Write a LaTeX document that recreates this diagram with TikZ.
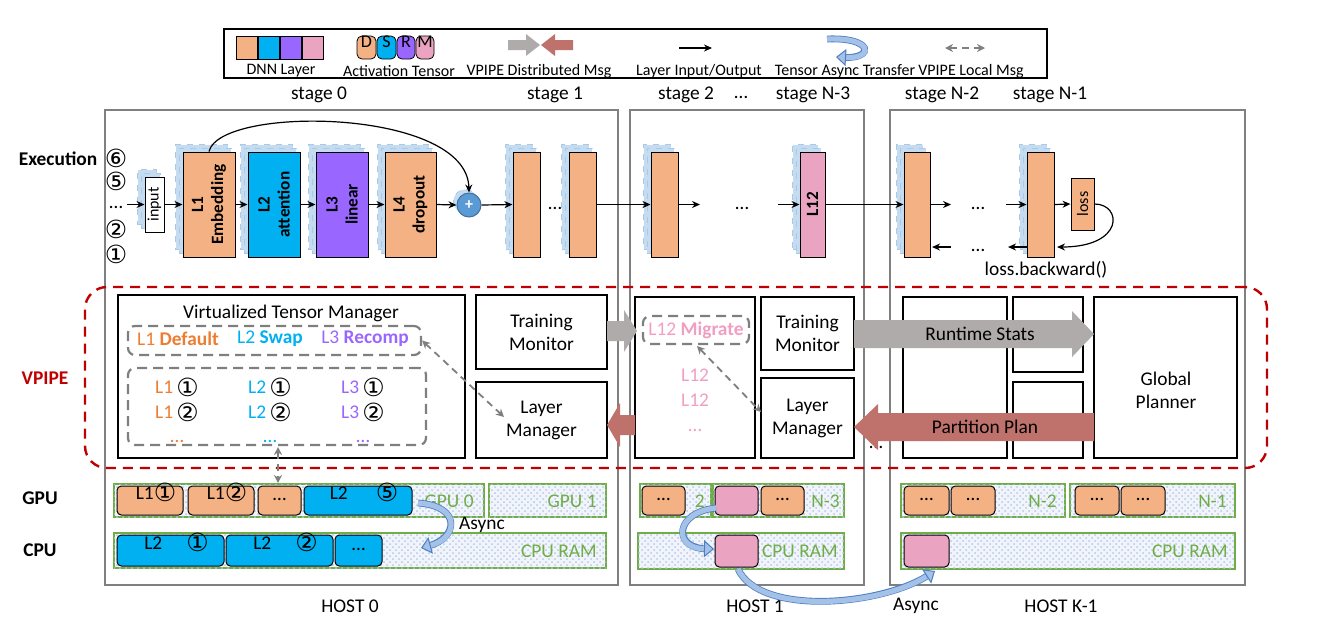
\documentclass[tikz,border=0pt]{standalone}
\usepackage{fontspec}
\setmainfont{Carlito}
\newfontfamily\symf{DejaVu Sans}
\usetikzlibrary{arrows.meta,fit,shadows,patterns,calc}
\definecolor{lorange}{HTML}{F4B183}
\definecolor{lblue}{HTML}{00B0F0}
\definecolor{lpurple}{HTML}{9966FF}
\definecolor{lpink}{HTML}{EAA3C1}
\definecolor{tpink}{HTML}{F19EC2}
\definecolor{torange}{HTML}{ED7D31}
\definecolor{gborder}{HTML}{70AD47}
\definecolor{vred}{HTML}{C00000}
\definecolor{agray}{HTML}{AFABAB}
\definecolor{ared}{HTML}{BF716C}
\definecolor{shblue}{HTML}{C5DBF0}
\definecolor{shedge}{HTML}{A9C9E8}
\definecolor{plusblue}{HTML}{5B9BD5}
\definecolor{plusedge}{HTML}{41719C}
\definecolor{asyncfill}{HTML}{A4C2E8}
\definecolor{asyncedge}{HTML}{4F7EC2}
\definecolor{dgray}{HTML}{7F7F7F}
\definecolor{hostgray}{HTML}{808080}
\definecolor{barfill}{HTML}{F1F5FB}
\definecolor{dotblue}{HTML}{B4C8E6}
\newcommand{\circd}[1]{\raisebox{-1.1pt}{\symf\fontsize{12.5}{13}\selectfont\char#1}}
\newcommand{\cone}{\circd{"2460}}
\newcommand{\ctwo}{\circd{"2461}}
\newcommand{\cfive}{\circd{"2464}}
\newcommand{\csix}{\circd{"2465}}
\begin{document}
\begin{tikzpicture}[x=0.5pt,y=-0.5pt,font=\fontsize{9.7}{11.5}\selectfont]
\tikzset{
  host/.style={draw=hostgray, line width=0.6pt, inner sep=0pt},
  fbox/.style={draw=black, line width=1.3pt, inner sep=0pt, align=center},
  dbox/.style={draw=dgray, line width=1.1pt, dash pattern=on 5pt off 3pt, rounded corners=3.5pt, inner sep=0pt},
  layer/.style={draw=black, line width=0.5pt, inner sep=0pt,
     double copy shadow={shadow xshift=-1.8pt, shadow yshift=1.8pt, fill=shblue, draw=shedge, dashed, line width=0.4pt}},
  io/.style={-{Stealth[length=4pt,width=3.5pt]}, line width=0.6pt},
  loc/.style={{Stealth[length=4pt,width=4pt]}-{Stealth[length=4pt,width=4pt]}, draw=dgray, line width=0.9pt, dash pattern=on 3.5pt off 2.5pt},
  bar/.style={draw=gborder, line width=1.1pt, inner sep=0pt, fill=barfill, postaction={pattern=crosshatch dots, pattern color=dotblue}},
  blk/.style={draw=black, line width=0.5pt, inner sep=0pt, rounded corners=2.2pt},
  bartext/.style={text=gborder, anchor=east, inner sep=0pt},
  lbl/.style={inner sep=0pt},
  dotl/.style={inner sep=0pt, text height=2pt, text depth=0pt},
  legt/.style={inner sep=0pt, font=\fontsize{8}{9.5}\selectfont},
  sq/.style={draw=black, line width=0.4pt, inner sep=0pt},
  tens/.style={draw=black, line width=0.4pt, inner sep=0pt, rounded corners=2.5pt, font=\fontsize{9}{10}\selectfont},
  rlabel/.style={rotate=90, inner sep=0pt, align=center, font=\bfseries\fontsize{8.6}{10}\selectfont},
  asy/.style={draw=asyncfill, line width=2.6pt, -{Triangle[length=5pt,width=8.5pt,fill=asyncfill,color=asyncedge,line width=0.5pt]},
     preaction={draw=asyncedge, line width=3.4pt, shorten >=4pt, -}},
}
\useasboundingbox (0,0) rectangle (1320,634);

% ---------------- legend ----------------
\node[draw=black, line width=0.9pt, inner sep=0pt, fit={(224,29) (1047,78)}] (legend) {};
\node[sq, fill=lorange, fit={(236,36) (257,59)}] (lg1) {};
\node[sq, fill=lblue,   fit={(258,36) (279,59)}] (lg2) {};
\node[sq, fill=lpurple, fit={(280,36) (301,59)}] (lg3) {};
\node[sq, fill=lpink,   fit={(302,36) (323,59)}] (lg4) {};
\node[legt] (lgt1) at (281,71) {DNN Layer};
\node[tens, fill=lorange, fit={(357,36) (376,59)}] (ta) {D};
\node[tens, fill=lblue,   fit={(377,36) (396,59)}] (tb) {S};
\node[tens, fill=lpurple, fit={(397,36) (415,59)}] (tc) {R};
\node[tens, fill=lpink,   fit={(416,36) (434,59)}] (td) {M};
\node[legt] (lgt2) at (399,71) {Activation Tensor};
\fill[agray] (508,40) -- (526,40) -- (526,34) -- (540,45) -- (526,56) -- (526,50) -- (508,50) -- cycle;
\fill[ared] (573,40) -- (555,40) -- (555,34) -- (541,45) -- (555,56) -- (555,50) -- (573,50) -- cycle;
\node[legt] (lgt3) at (539,71) {VPIPE Distributed Msg};
\coordinate (la1) at (679,48); \coordinate (la2) at (712,48);
\draw[io] (la1) -- (la2);
\node[legt] (lgt4) at (699,71) {Layer Input/Output};
\coordinate (lu1) at (827,39); \coordinate (lu2) at (836,57);
\draw[asy] (lu1) .. controls (874,37) and (874,59) .. (lu2);
\node[legt] (lgt5) at (845,71) {Tensor Async Transfer};
\coordinate (ld1) at (945,48); \coordinate (ld2) at (985,48);
\draw[loc] (ld1) -- (ld2);
\node[legt] (lgt6) at (971,71) {VPIPE Local Msg};

% ---------------- stage labels ----------------
\node[lbl] (st0) at (319,95) {stage 0};
\node[lbl] (st1) at (555,95) {stage 1};
\node[lbl] (st2) at (686,95) {stage 2};
\node[dotl] (std) at (741,96) {…};
\node[lbl] (st3) at (813,95) {stage N-3};
\node[lbl] (st4) at (942,95) {stage N-2};
\node[lbl] (st5) at (1050,95) {stage N-1};

% ---------------- hosts ----------------
\node[host, fit={(105,110) (618,585)}] (host0) {};
\node[host, fit={(630,110) (864,585)}] (host1) {};
\node[host, fit={(890,110) (1245,585)}] (hostk) {};
\node[lbl] (h0t) at (350,606) {HOST 0};
\node[lbl] (h1t) at (755,606) {HOST 1};
\node[lbl] (hkt) at (1061,606) {HOST K-1};

% ---------------- execution ----------------
\node[lbl, font=\bfseries\fontsize{9.7}{11.5}\selectfont] (exe) at (58,159) {Execution};
\node[lbl] (e6) at (116,158) {\csix};
\node[lbl] (e5) at (116,181) {\cfive};
\node[dotl] (ed) at (116,206) {…};
\node[lbl] (e2) at (116,229) {\ctwo};
\node[lbl] (e1) at (116,254) {\cone};
\node[layer, fill=white, fit={(145,177) (164,232)}] (inp) {};
\node[rotate=90, inner sep=0pt, font=\fontsize{8}{9}\selectfont] (inpt) at (inp.center) {input};
\node[layer, fill=lorange, fit={(183,152) (235,257)}] (L1) {};
\node[layer, fill=lblue,   fit={(248,152) (300,257)}] (L2) {};
\node[layer, fill=lpurple, fit={(316,152) (368,257)}] (L3) {};
\node[layer, fill=lorange, fit={(385,152) (436,257)}] (L4) {};
\node[rlabel] (L1t) at (L1.center) {L1\\Embedding};
\node[rlabel] (L2t) at (L2.center) {L2\\attention};
\node[rlabel] (L3t) at (L3.center) {L3\\linear};
\node[rlabel] (L4t) at (L4.center) {L4\\dropout};
\node[circle, fill=plusblue, draw=plusedge, line width=0.5pt, minimum size=12pt, inner sep=0pt, text=white,
      copy shadow={shadow xshift=-1.8pt, shadow yshift=1.8pt, fill=shblue, draw=shedge, dashed, line width=0.4pt},
      font=\bfseries\fontsize{8}{9}\selectfont] (plus) at (469,205) {+};
\node[layer, fill=lorange, fit={(513,152) (540,257)}] (S1a) {};
\node[dotl] (s1d) at (555,207) {…};
\node[layer, fill=lorange, fit={(569,152) (596,257)}] (S1b) {};
\node[layer, fill=lorange, fit={(651,152) (678,257)}] (S2a) {};
\coordinate (s2e) at (700,204.5);
\node[dotl] (s2d) at (742,207) {…};
\coordinate (s3s) at (778,204.5);
\node[layer, fill=lpink, fit={(800,152) (825,257)}] (L12) {};
\node[rlabel] (L12t) at (L12.center) {L12};
\node[layer, fill=lorange, fit={(904,152) (930,257)}] (N2a) {};
\coordinate (n2e) at (951,204.5);
\node[dotl] (n2d) at (978,207) {…};
\coordinate (n1s) at (1006,204.5);
\node[layer, fill=lorange, fit={(1027,152) (1054,257)}] (N1a) {};
\node[draw=black, line width=0.5pt, fill=lorange, inner sep=0pt, fit={(1071,178) (1094,230)}] (loss) {};
\node[rotate=90, inner sep=0pt, font=\fontsize{8}{9}\selectfont] (losst) at (loss.center) {loss};
\coordinate (ex0) at (127,204.5);
\draw[io] (ex0) -- (inp.west);
\draw[io] (inp.east) -- (L1.west);
\draw[io] (L1.east) -- (L2.west);
\draw[io] (L2.east) -- (L3.west);
\draw[io] (L3.east) -- (L4.west);
\draw[io] (L4.east) -- (plus.west);
\draw[io] (plus.east) -- (S1a.west);
\draw[io] (S1b.east) -- (S2a.west);
\draw[io] (S2a.east) -- (s2e);
\draw[io] (s3s) -- (L12.west);
\draw[io] (L12.east) -- (N2a.west);
\draw[io] (N2a.east) -- (n2e);
\draw[io] (n1s) -- (N1a.west);
\draw[io] (N1a.east) -- (loss.west);
\draw[io] (L1.north) .. controls (220,105) and (467,108) .. (plus.north);
\coordinate (bk1) at (1057,247);
\draw[io] (loss.east) .. controls (1122,204) and (1125,247) .. (bk1);
\coordinate (bk2) at (1027,247); \coordinate (bk3) at (1008,247);
\coordinate (bk4) at (951,247); \coordinate (bk5) at (932,247);
\draw[io] (bk2) -- (bk3);
\node[dotl] (bkd) at (978,249) {…};
\draw[io] (bk4) -- (bk5);
\node[lbl] (lossb) at (1046,270) {loss.backward()};

% ---------------- VPIPE ----------------
\node[draw=vred, line width=1.2pt, dash pattern=on 5pt off 3.5pt, rounded corners=11pt, inner sep=0pt, fit={(85,287) (1267,468)}] (vpipe) {};
\node[lbl, text=vred, font=\bfseries\fontsize{9.7}{11.5}\selectfont] (vpt) at (45,378) {VPIPE};

\node[fbox, fit={(118,295) (465,458)}] (vtm) {};
\node[lbl] (vtmt) at (291,313) {Virtualized Tensor Manager};
\node[dbox, fit={(128,326) (421,355)}] (pol) {};
\node[lbl, text=torange] (p1) at (178,339) {L1 \textbf{Default}};
\node[lbl, text=lblue]   (p2) at (270,339) {L2 \textbf{Swap}};
\node[lbl, text=lpurple] (p3) at (365,339) {L3 \textbf{Recomp}};
\node[dbox, fit={(128,368) (426,445)}] (acts) {};
\node[lbl] (a11) at (177,387) {\textcolor{torange}{L1}\,\cone};
\node[lbl] (a12) at (177,412) {\textcolor{torange}{L1}\,\ctwo};
\node[dotl, text=torange] (a13) at (177,440) {…};
\node[lbl] (a21) at (270,387) {\textcolor{lblue}{L2}\,\cone};
\node[lbl] (a22) at (270,412) {\textcolor{lblue}{L2}\,\ctwo};
\node[dotl, text=lblue] (a23) at (270,440) {…};
\node[lbl] (a31) at (363,387) {\textcolor{lpurple}{L3}\,\cone};
\node[lbl] (a32) at (363,412) {\textcolor{lpurple}{L3}\,\ctwo};
\node[dotl, text=lpurple] (a33) at (363,440) {…};
\node[fbox, fit={(476,295) (607,369)}] (tm0) {};
\node[lbl, align=center] (tm0t) at (tm0.center) {Training\\Monitor};
\node[fbox, fit={(476,382) (607,458)}] (lm0) {};
\node[lbl, align=center] (lm0t) at (lm0.center) {Layer\\Manager};
\coordinate (lm0p) at (504,417);
\draw[loc] (pol.east) -- (lm0p);

\node[fbox, fit={(635,297) (755,458)}] (h1b) {};
\node[dbox, fit={(643,316) (749,344)}] (mig) {};
\node[lbl, text=tpink] (migt) at (696,330) {L12 \textbf{Migrate}};
\node[lbl, text=tpink] (m1) at (695,375) {L12};
\node[lbl, text=tpink] (m2) at (695,400) {L12};
\node[dotl, text=tpink] (m3) at (695,429) {…};
\node[fbox, fit={(761,297) (854,370)}] (tm1) {};
\node[lbl, align=center] (tm1t) at (tm1.center) {Training\\Monitor};
\node[fbox, fit={(761,378) (854,458)}] (lm1) {};
\node[lbl, align=center] (lm1t) at (lm1.center) {Layer\\Manager};
\coordinate (migp) at (697,346);
\coordinate (lm1p) at (761,412);
\draw[loc] (migp) -- (lm1p);
\node[dotl] (hd) at (876,446) {…};

\node[fbox, fit={(903,297) (1007,458)}] (ka) {};
\node[fbox, fit={(1013,297) (1083,372)}] (kb) {};
\node[fbox, fit={(1013,382) (1083,458)}] (kc) {};
\node[fbox, fit={(1094,297) (1237,458)}] (gp) {};
\node[lbl, align=center] (gpt) at (1166,390) {Global\\Planner};

% block arrows
\fill[agray] (607,321) -- (624,321) -- (624,310) -- (637,331) -- (624,352) -- (624,341) -- (607,341) -- cycle;
\fill[ared] (635,415) -- (620,415) -- (620,403) -- (607,425) -- (620,447) -- (620,435) -- (635,435) -- cycle;
\fill[agray] (854,320) -- (1072,320) -- (1072,311) -- (1094,334) -- (1072,357) -- (1072,348) -- (854,348) -- cycle;
\node[lbl] (rst) at (980,334) {Runtime Stats};
\fill[ared] (1094,413) -- (878,413) -- (878,404) -- (854,427) -- (878,450) -- (878,441) -- (1094,441) -- cycle;
\node[lbl] (ppt) at (985,427) {Partition Plan};

% ---------------- GPU / CPU ----------------
\node[lbl, font=\bfseries\fontsize{9.7}{11.5}\selectfont] (gput) at (40,498) {GPU};
\node[lbl, font=\bfseries\fontsize{9.7}{11.5}\selectfont] (cput) at (40,550) {CPU};

\node[bar, fit={(114,484) (484,517)}] (g0) {};
\node[bartext] (g0t) at (474,501) {GPU 0};
\node[bar, fit={(489,484) (606,517)}] (g1) {};
\node[bartext] (g1t) at (597,501) {GPU 1};
\node[bar, fit={(114,533) (606,568)}] (c0) {};
\node[bartext] (c0t) at (597,551) {CPU RAM};
\node[blk, fill=lorange, fit={(117,486) (183,515)}] (b1) {\hspace{6pt}L1\cone};
\node[blk, fill=lorange, fit={(188,486) (254,515)}] (b2) {\hspace{6pt}L1\ctwo};
\node[blk, fill=lorange, fit={(258,486) (301,515)}] (b3) {…};
\node[blk, fill=lblue, fit={(304,486) (412,515)}] (b4) {\hspace{6pt}L2\hspace{14pt}\cfive};
\node[blk, fill=lblue, fit={(117,535) (224,566)}] (c1) {\hspace{6pt}L2\hspace{12pt}\cone};
\node[blk, fill=lblue, fit={(226,535) (333,566)}] (c2) {\hspace{6pt}L2\hspace{12pt}\ctwo};
\node[blk, fill=lblue, fit={(335,535) (382,566)}] (c3) {…};
\coordinate (as0a) at (418,503); \coordinate (as0b) at (421,548);
\draw[asy] (as0a) .. controls (462,506) and (458,538) .. (as0b);
\node[lbl] (as0t) at (482,525) {Async};

\node[bar, fit={(640,484) (711,517)}] (g2) {};
\node[bartext] (g2t) at (705,501) {2};
\node[bar, fit={(713,484) (844,517)}] (g3) {};
\node[bartext] (g3t) at (840,501) {N-3};
\node[blk, fill=lorange, fit={(642,486) (685,515)}] (b5) {…};
\node[blk, fill=lpink, fit={(715,486) (758,515)}] (b6) {};
\node[blk, fill=lorange, fit={(761,486) (804,515)}] (b7) {…};
\node[bar, fit={(638,533) (844,569)}] (c1b) {};
\node[bartext] (c1t) at (838,551) {CPU RAM};
\node[blk, fill=lpink, fit={(715,535) (758,567)}] (c4) {};
\coordinate (as1a) at (716,508); \coordinate (as1b) at (714,549);
\draw[asy] (as1a) .. controls (675,512) and (672,548) .. (as1b);

\node[bar, fit={(901,484) (1065,517)}] (g4) {};
\node[bartext] (g4t) at (1057,501) {N-2};
\node[bar, fit={(1070,484) (1235,517)}] (g5) {};
\node[bartext] (g5t) at (1227,501) {N-1};
\node[blk, fill=lorange, fit={(904,486) (949,515)}] (b8) {…};
\node[blk, fill=lorange, fit={(951,486) (995,515)}] (b9) {…};
\node[blk, fill=lorange, fit={(1075,486) (1119,515)}] (b10) {…};
\node[blk, fill=lorange, fit={(1121,486) (1165,515)}] (b11) {…};
\node[bar, fit={(901,533) (1235,569)}] (ck) {};
\node[bartext] (ckt) at (1228,551) {CPU RAM};
\node[blk, fill=lpink, fit={(904,535) (949,567)}] (c5) {};
\coordinate (as2a) at (738,569); \coordinate (as2b) at (935,571);
\draw[asy] (as2a) .. controls (760,616) and (880,606) .. (as2b);
\node[lbl] (as2t) at (916,606) {Async};

\coordinate (vt1) at (278,447); \coordinate (vt2) at (278,483);
\draw[loc] (vt1) -- (vt2);
\end{tikzpicture}
\end{document}
